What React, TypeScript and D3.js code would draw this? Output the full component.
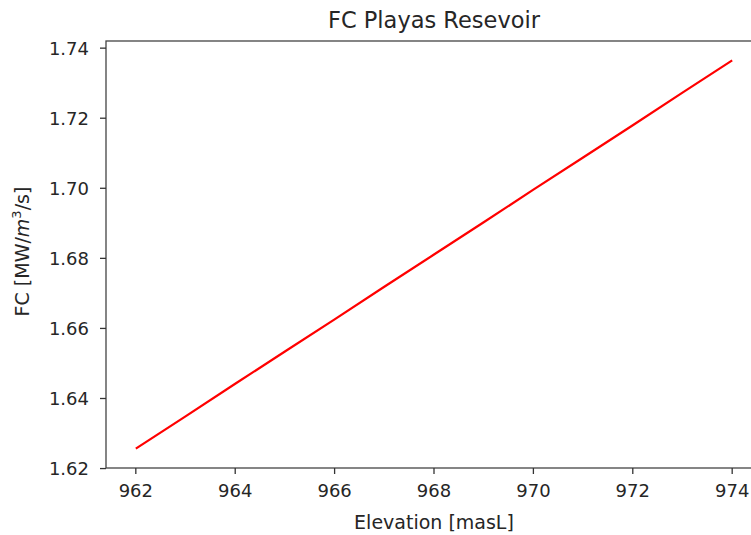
import React from "react";
import * as d3 from "d3";

const elevations = [962, 963, 964, 965, 966, 967, 968, 969, 970, 971, 972, 973, 974];
const fcValues = [1.6257, 1.6349, 1.6442, 1.6534, 1.6626, 1.6719, 1.6811, 1.6903, 1.6996, 1.7088, 1.718, 1.7273, 1.7365];
const xTicks = [962, 964, 966, 968, 970, 972, 974];
const yTicks = [1.62, 1.64, 1.66, 1.68, 1.7, 1.72, 1.74];
const title = "FC Playas Resevoir";
const xLabel = "Elevation [masL]";

const W = 751;
const H = 535;
const FONT = "DejaVu Sans";

export default function App() {
  const left = 106, right = 762, top = 41, bottom = 468;
  const xMin = d3.min(elevations)!, xMax = d3.max(elevations)!;
  const yMin = d3.min(fcValues)!, yMax = d3.max(fcValues)!;
  const xm = (xMax - xMin) * 0.05, ym = (yMax - yMin) * 0.05;
  const x = d3.scaleLinear().domain([xMin - xm, xMax + xm]).range([left, right]);
  const y = d3.scaleLinear().domain([yMin - ym, yMax + ym]).range([bottom, top]);
  const data = elevations.map((e, i) => [e, fcValues[i]] as [number, number]);
  const line = d3.line<[number, number]>().x((d) => x(d[0])).y((d) => y(d[1]));
  const tickColor = "#333";
  const textColor = "#262626";
  return (
    <svg width={W} height={H} style={{ position: "absolute", left: 0, top: 0, background: "#fff" }} fontFamily={FONT}>
      <rect x={0} y={0} width={W} height={H} fill="#fff" />
      <path d={line(data)!} fill="none" stroke="#ff0000" strokeWidth={2.2} />
      <rect x={left} y={top} width={right - left} height={bottom - top} fill="none" stroke="#444" strokeWidth={1.3} />
      {xTicks.map((t) => (
        <g key={"x" + t} transform={`translate(${x(t)},${bottom})`}>
          <line y1={0} y2={6} stroke={tickColor} strokeWidth={1.3} />
          <text y={29} textAnchor="middle" fontSize={18} fill={textColor}>{t}</text>
        </g>
      ))}
      {yTicks.map((t) => (
        <g key={"y" + t} transform={`translate(${left},${y(t)})`}>
          <line x1={0} x2={-6} stroke={tickColor} strokeWidth={1.3} />
          <text x={-17} dy="0.36em" textAnchor="end" fontSize={18} fill={textColor}>{t.toFixed(2)}</text>
        </g>
      ))}
      <text x={(left + right) / 2} y={28} textAnchor="middle" fontSize={22.5} fill={textColor}>{title}</text>
      <text x={(left + right) / 2} y={529} textAnchor="middle" fontSize={19} fill={textColor}>{xLabel}</text>
      <text transform={`translate(29,${(top + bottom) / 2 - 3}) rotate(-90)`} textAnchor="middle" fontSize={19} fill={textColor}>
        FC [MW/<tspan fontStyle="italic">m</tspan><tspan dy={-8} fontSize={13}>3</tspan><tspan dy={8}>/s]</tspan>
      </text>
    </svg>
  );
}
